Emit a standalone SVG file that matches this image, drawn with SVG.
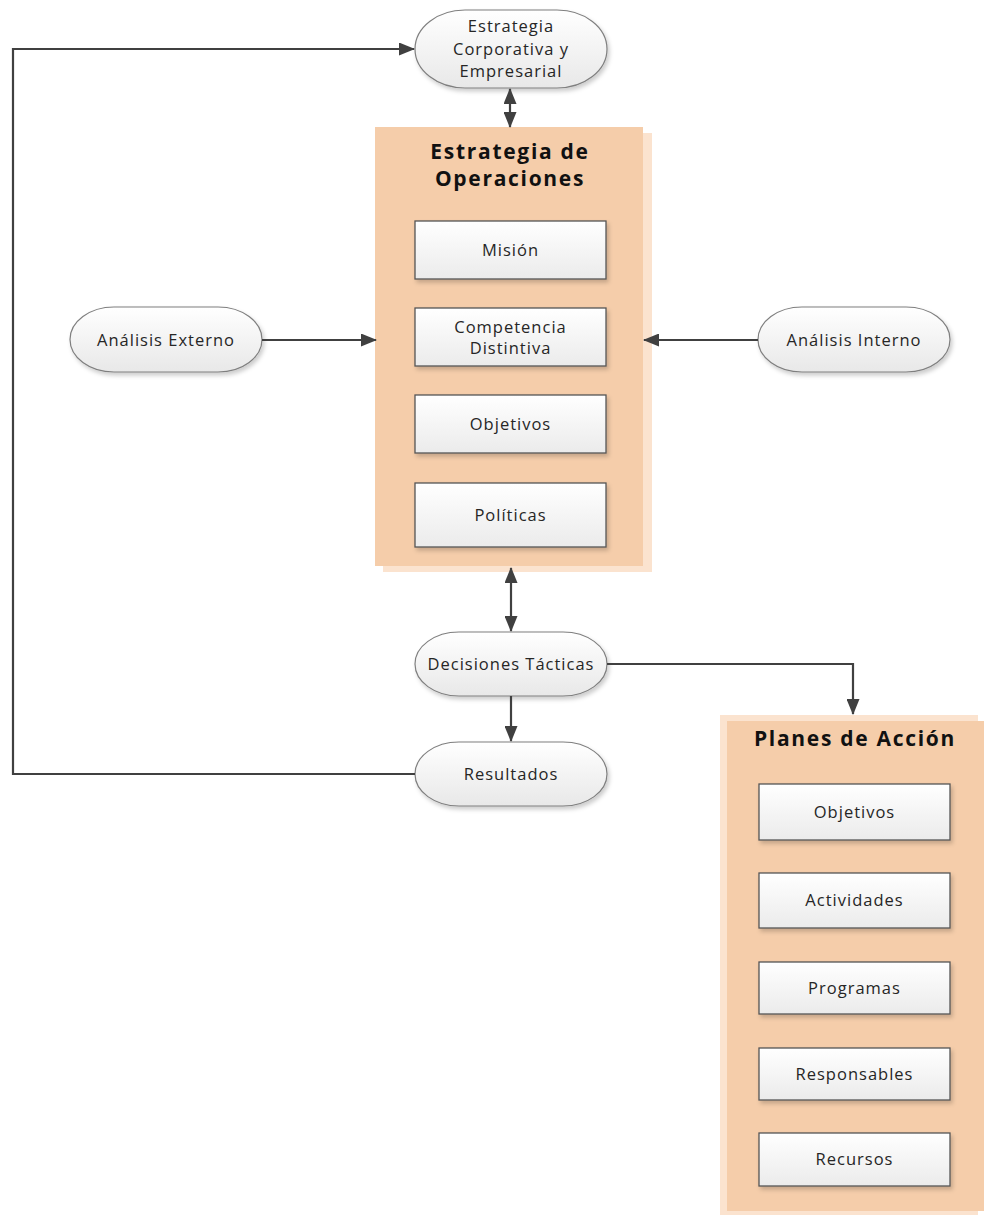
<svg xmlns="http://www.w3.org/2000/svg" width="984" height="1216" viewBox="0 0 984 1216">
  <defs>
    <linearGradient id="pillFill" x1="0" y1="0" x2="0" y2="1">
      <stop offset="0" stop-color="#ffffff"/>
      <stop offset="1" stop-color="#e8e8e8"/>
    </linearGradient>
    <linearGradient id="boxFill" x1="0" y1="0" x2="0" y2="1">
      <stop offset="0" stop-color="#ffffff"/>
      <stop offset="1" stop-color="#ebebeb"/>
    </linearGradient>
    <filter id="shadow" x="-10%" y="-10%" width="130%" height="140%">
      <feDropShadow dx="2" dy="3" stdDeviation="2" flood-color="#000" flood-opacity="0.2"/>
    </filter>
    <marker id="arrow" viewBox="0 0 16 13" refX="15" refY="6.5" markerWidth="16" markerHeight="13" markerUnits="userSpaceOnUse" orient="auto-start-reverse">
      <path d="M0,0 L16,6.5 L0,13 Z" fill="#404040"/>
    </marker>
  </defs>
  <style>
    .pill { fill: url(#pillFill); stroke: #7f7f7f; stroke-width: 1.2; filter: url(#shadow); }
    .box { fill: url(#boxFill); stroke: #555555; stroke-width: 1.3; filter: url(#shadow); }
    .panel { fill: #f5cdaa; }
    .panelShade { fill: #fbe3cf; }
    .label { font-family: "Open Sans", "DejaVu Sans", sans-serif; font-size: 16.5px; letter-spacing: 1px; fill: #262626; text-anchor: middle; }
    .title { font-family: "Open Sans", "DejaVu Sans", sans-serif; font-size: 21px; font-weight: bold; letter-spacing: 1.7px; fill: #111111; text-anchor: middle; }
    .conn { fill: none; stroke: #404040; stroke-width: 2.2; }
  </style>
  <rect width="984" height="1216" fill="#ffffff"/>

  <!-- top strategy -->
  <g id="estrategia-corporativa">
    <rect class="pill" x="415" y="10" width="192" height="78" rx="50" ry="39"/>
    <text class="label" x="511" y="32">Estrategia</text>
    <text class="label" x="511" y="55">Corporativa y</text>
    <text class="label" x="511" y="77">Empresarial</text>
  </g>

  <!-- operations strategy panel -->
  <g id="estrategia-operaciones">
    <rect class="panelShade" x="383" y="133" width="269" height="439"/>
    <rect class="panel" x="375" y="127" width="268" height="439"/>
    <text class="title" x="510" y="159">Estrategia de</text>
    <text class="title" x="510" y="186">Operaciones</text>
  </g>
  <g id="mision">
    <rect class="box" x="415" y="221" width="191" height="58"/>
    <text class="label" x="510.5" y="256">Misión</text>
  </g>
  <g id="competencia">
    <rect class="box" x="415" y="308" width="191" height="58"/>
    <text class="label" x="510.5" y="333">Competencia</text>
    <text class="label" x="510.5" y="354">Distintiva</text>
  </g>
  <g id="objetivos-op">
    <rect class="box" x="415" y="395" width="191" height="58"/>
    <text class="label" x="510.5" y="430">Objetivos</text>
  </g>
  <g id="politicas">
    <rect class="box" x="415" y="483" width="191" height="64"/>
    <text class="label" x="510.5" y="521">Políticas</text>
  </g>

  <!-- analyses -->
  <g id="analisis-externo">
    <rect class="pill" x="70" y="307" width="192" height="65" rx="44" ry="32.5"/>
    <text class="label" x="166" y="346">Análisis Externo</text>
  </g>
  <g id="analisis-interno">
    <rect class="pill" x="758" y="307" width="192" height="65" rx="44" ry="32.5"/>
    <text class="label" x="854" y="346">Análisis Interno</text>
  </g>

  <!-- tactical decisions and results -->
  <g id="decisiones">
    <rect class="pill" x="415" y="632" width="192" height="64" rx="44" ry="32"/>
    <text class="label" x="511" y="670">Decisiones Tácticas</text>
  </g>
  <g id="resultados">
    <rect class="pill" x="415" y="742" width="192" height="64" rx="44" ry="32"/>
    <text class="label" x="511" y="780">Resultados</text>
  </g>

  <!-- action plans panel -->
  <g id="planes-accion">
    <rect class="panelShade" x="720" y="715" width="258" height="500"/>
    <rect class="panel" x="727" y="721" width="257" height="490"/>
    <text class="title" x="855" y="746">Planes de Acción</text>
  </g>
  <g id="objetivos-plan">
    <rect class="box" x="759" y="784" width="191" height="56"/>
    <text class="label" x="854.5" y="818">Objetivos</text>
  </g>
  <g id="actividades">
    <rect class="box" x="759" y="873" width="191" height="55"/>
    <text class="label" x="854.5" y="906">Actividades</text>
  </g>
  <g id="programas">
    <rect class="box" x="759" y="962" width="191" height="52"/>
    <text class="label" x="854.5" y="994">Programas</text>
  </g>
  <g id="responsables">
    <rect class="box" x="759" y="1048" width="191" height="52"/>
    <text class="label" x="854.5" y="1080">Responsables</text>
  </g>
  <g id="recursos">
    <rect class="box" x="759" y="1133" width="191" height="53"/>
    <text class="label" x="854.5" y="1165">Recursos</text>
  </g>

  <!-- connectors -->
  <g id="connectors">
    <path class="conn" d="M415,774 H13 V49 H414" marker-end="url(#arrow)"/>
    <path class="conn" d="M510,89 V127" marker-start="url(#arrow)" marker-end="url(#arrow)"/>
    <path class="conn" d="M262,340 H376" marker-end="url(#arrow)"/>
    <path class="conn" d="M758,340 H644" marker-end="url(#arrow)"/>
    <path class="conn" d="M511,568 V631" marker-start="url(#arrow)" marker-end="url(#arrow)"/>
    <path class="conn" d="M511,696 V741" marker-end="url(#arrow)"/>
    <path class="conn" d="M607,664 H853 V714" marker-end="url(#arrow)"/>
  </g>
</svg>
